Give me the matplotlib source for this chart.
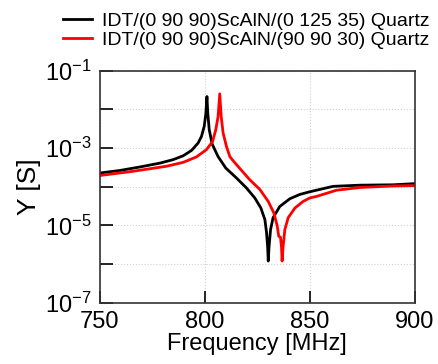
import matplotlib
matplotlib.use('Agg')
import matplotlib.pyplot as plt
import numpy as np

plt.rcParams['font.family'] = ['Liberation Sans', 'DejaVu Sans']
plt.rcParams['mathtext.fontset'] = 'custom'
plt.rcParams['mathtext.rm'] = 'Liberation Sans'

# values: frequency [MHz], log10(Y [S])
f_black = [750, 759.5, 769, 778.6, 784.9, 789.7, 793.7, 796.8, 798.4, 799.7, 800.5, 801,
           801.4, 802.1, 803.5, 806.3, 810, 815, 819.8, 823.8, 826.7, 828.6, 829.4,
           829.9, 830.2, 830.6, 831.3, 832.5, 835.7, 840.5, 845.2, 850, 861.1, 873.8,
           889.7, 900]
logy_black = [-3.645, -3.58, -3.49, -3.39, -3.30, -3.20, -3.06, -2.87, -2.70, -2.44, -2.10,
              -1.67, -2.10, -2.53, -2.90, -3.22, -3.52, -3.77, -4.03, -4.29, -4.55, -4.85,
              -5.19, -5.54, -5.92, -5.54, -5.11, -4.80, -4.51, -4.31, -4.20, -4.13, -3.99,
              -3.96, -3.95, -3.92]

f_red = [750, 765.9, 781.8, 789.7, 796, 800.8, 803.7, 805.2, 806.3, 807.1, 807.8, 808.7,
         810.3, 811.9, 813.5, 816.7, 821.4, 826.2, 830.2, 832.9, 834.5, 835.2, 836,
         836.5, 836.8, 837.3, 838.1, 839.7, 842.9, 846.8, 850, 853.2, 862.7, 873.8,
         889.7, 900]
logy_red = [-3.71, -3.60, -3.47, -3.37, -3.23, -3.04, -2.83, -2.53, -2.19, -1.60, -2.19,
            -2.61, -2.96, -3.22, -3.33, -3.53, -3.82, -4.07, -4.38, -4.68, -5.02, -5.28,
            -5.30, -5.54, -5.92, -5.54, -5.11, -4.80, -4.55, -4.38, -4.29, -4.25, -4.09,
            -4.02, -3.98, -3.97]

labels = ['IDT/(0 90 90)ScAlN/(0 125 35) Quartz',
          'IDT/(0 90 90)ScAlN/(90 90 30) Quartz']

fig = plt.figure(figsize=(4.38, 3.64), dpi=100)
ax = fig.add_axes([0.228, 0.168, 0.719, 0.638])

ax.plot(f_black, 10 ** np.array(logy_black), color='black', lw=2, label=labels[0])
ax.plot(f_red, 10 ** np.array(logy_red), color='red', lw=2, label=labels[1])

ax.set_yscale('log')
ax.set_xlim(750, 900)
ax.set_ylim(1e-7, 1e-1)
ax.set_xticks([750, 800, 850, 900])
ax.set_yticks([10.0 ** e for e in range(-7, 0)])
ax.set_yticklabels(['$\\mathregular{10^{%d}}$' % e if e % 2 else '' for e in range(-7, 0)])
ax.minorticks_off()
ax.tick_params(direction='in', length=9, width=1.2, labelsize=17, pad=6)
ax.tick_params(axis='x', pad=6)
ax.grid(True, ls=':', color='#d0d0d0', lw=0.8)
for s in ax.spines.values():
    s.set_color('#333333')
    s.set_linewidth(1.2)

ax.set_xlabel('Frequency [MHz]', fontsize=17, labelpad=0)
ax.set_ylabel('Y [S]', fontsize=19, labelpad=3)

fig.legend(loc='upper right', bbox_to_anchor=(1.02, 1.015), frameon=False, fontsize=14,
           handlelength=1.5, handletextpad=0.5, labelspacing=0.1)

fig.savefig('out.png', dpi=100)
